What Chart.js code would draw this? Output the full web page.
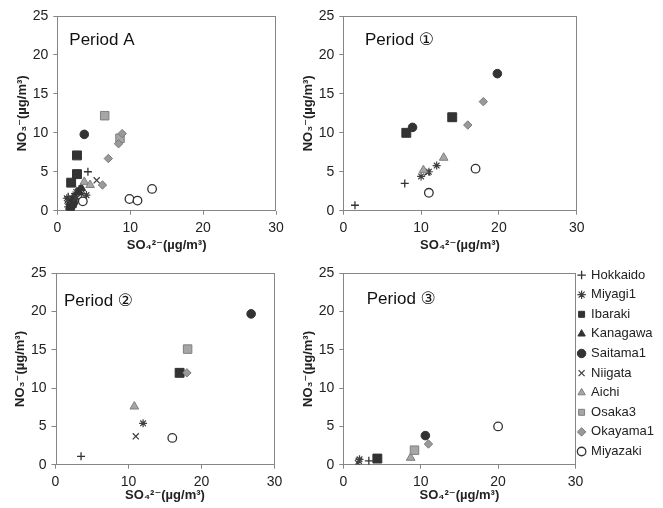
<!DOCTYPE html>
<html>
<head>
<meta charset="utf-8">
<script src="https://cdn.jsdelivr.net/npm/chart.js@4.4.1/dist/chart.umd.min.js"></script>
<style>
	html, body { margin: 0; padding: 0; background: #fff; }
	#wrap { position: relative; width: 663px; height: 508px; overflow: hidden; }
	canvas { position: absolute; }
</style>
</head>
<body>
<div id="wrap">
	<canvas id="p1" width="330" height="258" style="left:0;top:0;width:330px;height:258px"></canvas>
	<canvas id="p2" width="377" height="258" style="left:286px;top:0;width:377px;height:258px"></canvas>
	<canvas id="p3" width="330" height="258" style="left:0;top:250px;width:330px;height:258px"></canvas>
	<canvas id="p4" width="377" height="258" style="left:286px;top:250px;width:377px;height:258px"></canvas>
	<canvas id="legend" width="91" height="440" style="left:572px;top:262px;width:91px;height:440px"></canvas>
</div>
<script>
'use strict';
(function(){

	// sites, in legend order
	var seriesNames = ["Hokkaido","Miyagi1","Ibaraki","Kanagawa","Saitama1","Niigata","Aichi","Osaka3","Okayama1","Miyazaki"];

	// tick labels
	var xTicks = [0, 10, 20, 30];
	var yTicks = [0, 5, 10, 15, 20, 25];

	// [SO4, NO3] per site and period (ug/m3)
	var periodA = {
		Hokkaido : [[4.2,5.0],[1.5,1.8],[2.5,2.2],[3.0,2.8]],
		Miyagi1 : [[1.3,1.6],[1.6,1.2],[1.8,0.8],[2.0,1.5],[2.3,1.9],[2.6,2.4],[3.0,2.7],[3.3,2.2],[1.5,0.5],[4.0,2.0]],
		Ibaraki : [[2.7,7.1],[2.7,4.7],[1.9,3.6],[2.0,1.0]],
		Kanagawa : [[2.1,1.3],[2.4,1.7],[2.9,2.4],[3.3,2.9]],
		Saitama1 : [[3.7,9.8],[1.8,0.3],[1.9,0.6],[2.2,1.0]],
		Niigata : [[5.4,3.9],[1.4,1.3],[2.6,1.6]],
		Aichi : [[3.7,3.7],[4.5,3.3]],
		Osaka3 : [[6.5,12.2],[8.6,9.3]],
		Okayama1 : [[8.9,9.9],[8.4,8.6],[7.0,6.7],[6.2,3.3]],
		Miyazaki : [[13.0,2.8],[9.9,1.5],[11.0,1.3],[3.5,1.2]]
	};
	var period1 = {
		Hokkaido : [[7.9,3.5],[1.5,0.7]],
		Miyagi1 : [[10.0,4.4],[11.0,5.0],[12.0,5.8]],
		Ibaraki : [[8.1,10.0],[14.0,12.0]],
		Kanagawa : [],
		Saitama1 : [[19.8,17.6],[8.9,10.7]],
		Niigata : [[10.8,4.9]],
		Aichi : [[12.9,6.8],[10.3,5.2]],
		Osaka3 : [],
		Okayama1 : [[18.0,14.0],[16.0,11.0]],
		Miyazaki : [[17.0,5.4],[11.0,2.3]]
	};
	var period2 = {
		Hokkaido : [[3.5,1.1]],
		Miyagi1 : [[12.0,5.4]],
		Ibaraki : [[17.0,12.0]],
		Kanagawa : [],
		Saitama1 : [[26.8,19.7]],
		Niigata : [[11.0,3.7]],
		Aichi : [[10.8,7.6]],
		Osaka3 : [[18.1,15.1]],
		Okayama1 : [[18.0,12.0]],
		Miyazaki : [[16.0,3.5]]
	};
	var period3 = {
		Hokkaido : [[3.3,0.5]],
		Miyagi1 : [[2.1,0.7]],
		Ibaraki : [[4.4,0.8]],
		Kanagawa : [],
		Saitama1 : [[10.6,3.8]],
		Niigata : [[2.0,0.5],[1.9,0.2]],
		Aichi : [[8.7,0.9]],
		Osaka3 : [[9.2,1.9]],
		Okayama1 : [[11.0,2.7]],
		Miyazaki : [[20.0,5.0]]
	};

	// marker look per site
	var markerStyles = {
		Hokkaido : {style:"cross", radius:4, fill:"#333", stroke:"#333", width:1.3},
		Miyagi1 : {style:"star", radius:4, fill:"#404040", stroke:"#404040", width:1.2},
		Ibaraki : {style:"rect", radius:6.3, fill:"#333", stroke:"#333", width:1},
		Kanagawa : {style:"triangle", radius:5, fill:"#333", stroke:"#333", width:1},
		Saitama1 : {style:"circle", radius:4.3, fill:"#333", stroke:"#333", width:1},
		Niigata : {style:"crossRot", radius:4.3, fill:"#404040", stroke:"#404040", width:1.3},
		Aichi : {style:"triangle", radius:5, fill:"#a6a6a6", stroke:"#7f7f7f", width:1},
		Osaka3 : {style:"rect", radius:6, fill:"#a6a6a6", stroke:"#808080", width:1},
		Okayama1 : {style:"rectRot", radius:4.2, fill:"#999", stroke:"#7a7a7a", width:1},
		Miyazaki : {style:"circle", radius:4.3, fill:"#fff", stroke:"#333", width:1.3}
	};

	var family = "'Liberation Sans', Arial, 'DejaVu Sans', sans-serif";
	var textColor = "#222";
	var frameColor = "#868686";

	// box round the plot area plus the period name inside it
	var framePlugin = {
		id : "frame",
		beforeDatasetsDraw : function(chart, args, opts){
			var a = chart.chartArea;
			var c = chart.ctx;
			c.save();
			c.strokeStyle = frameColor;
			c.lineWidth = 1;
			var l = Math.round(a.left) + 0.5, t = Math.round(a.top) + 0.5;
			var r = Math.round(a.right) - 0.5, b = Math.round(a.bottom) - 0.5;
			c.strokeRect(l, t, r - l, b - t);
			c.fillStyle = "#111";
			c.font = "17px " + family;
			c.textAlign = "left";
			c.textBaseline = "middle";
			c.fillText(opts.text, a.left + opts.dx, a.top + opts.dy);
			c.restore();
		}
	};

	// later sites are drawn on top, as in the original sheet
	var makeDataset = function(name, points, order){
		var s = markerStyles[name];
		return {
			label : name,
			data : points.map(function(p){ return {x:p[0], y:p[1]}; }),
			pointStyle : s.style,
			pointRadius : s.radius,
			pointHoverRadius : s.radius,
			backgroundColor : s.fill,
			borderColor : s.stroke,
			borderWidth : s.width,
			order : order
		};
	};

	// one scatter panel
	var scatter_panel = function(id, mydata, layout){
		var ctx = document.getElementById(id).getContext("2d");
		var datasets = seriesNames.map(function(name, i){
			return makeDataset(name, mydata[name] || [], seriesNames.length - i);
		});
		var tickGrid = {display:true, drawOnChartArea:false, drawTicks:true, tickLength:4, color:frameColor};
		new Chart(ctx, {
			type : "scatter",
			data : {datasets : datasets},
			options : {
				responsive : false,
				animation : false,
				layout : {padding : layout.padding},
				plugins : {
					legend : {display:false},
					tooltip : {enabled:false},
					frame : {text:layout.text, dx:layout.dx, dy:layout.dy}
				},
				scales : {
					x : {
						type : "linear", min : 0, max : 30,
						afterBuildTicks : function(s){ s.ticks = xTicks.map(function(v){ return {value:v}; }); },
						afterFit : function(s){ s.height = layout.xHeight; },
						grid : tickGrid,
						border : {display:false},
						ticks : {color:textColor, font:{family:family, size:14}, padding:5, maxRotation:0},
						title : {display:true, text:"SO\u2084\u00B2\u207B(\u00B5g/m\u00B3)", color:textColor,
							font:{family:family, size:13, weight:"bold"}, padding:{top:0, bottom:4.5}}
					},
					y : {
						type : "linear", min : 0, max : 25,
						afterBuildTicks : function(s){ s.ticks = yTicks.map(function(v){ return {value:v}; }); },
						afterFit : function(s){ s.width = layout.yWidth; },
						grid : tickGrid,
						border : {display:false},
						ticks : {color:textColor, font:{family:family, size:14}, padding:5},
						title : {display:true, text:"NO\u2083\u207B(\u00B5g/m\u00B3)", color:textColor,
							font:{family:family, size:13, weight:"bold"}, padding:{top:layout.yTitlePad, bottom:0}}
					}
				}
			},
			plugins : [framePlugin]
		});
	};

	// legend drawn by its own chart, sitting right of the last panel
	var legend_chart = function(id){
		var ctx = document.getElementById(id).getContext("2d");
		new Chart(ctx, {
			type : "scatter",
			data : {datasets : seriesNames.map(function(name){ return makeDataset(name, [], 0); })},
			options : {
				responsive : false,
				animation : false,
				layout : {padding : 0},
				scales : {x : {display:false}, y : {display:false}},
				plugins : {
					tooltip : {enabled:false},
					legend : {
						position : "top",
						align : "start",
						labels : {usePointStyle:true, boxWidth:6, boxHeight:6, padding:6.6,
							color:textColor, font:{family:family, size:13}}
					}
				}
			}
		});
	};

	scatter_panel("p1", periodA, {text:"Period A", dx:12, dy:24.5, xHeight:47.3, yWidth:57.3, yTitlePad:14.8,
		padding:{top:16, right:54, left:0, bottom:0}});
	scatter_panel("p2", period1, {text:"Period \u2460", dx:21.7, dy:24, xHeight:47.3, yWidth:57.3, yTitlePad:14.8,
		padding:{top:16, right:86.3, left:0, bottom:0}});
	scatter_panel("p3", period2, {text:"Period \u2461", dx:8.5, dy:28.4, xHeight:43.3, yWidth:55.5, yTitlePad:12.8,
		padding:{top:23.3, right:55.5, left:0, bottom:0}});
	scatter_panel("p4", period3, {text:"Period \u2462", dx:23.4, dy:25.7, xHeight:43.3, yWidth:57.3, yTitlePad:14.8,
		padding:{top:23.3, right:87.5, left:0, bottom:0}});
	legend_chart("legend");

})();
</script>
</body>
</html>
